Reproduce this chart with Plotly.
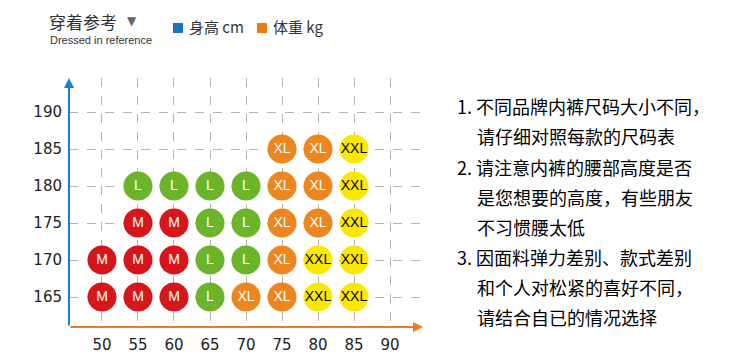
import plotly.graph_objects as go

# ---- data ----
heights = [165, 170, 175, 180, 185]
weights = [50, 55, 60, 65, 70, 75, 80, 85]
x_ticks = [50, 55, 60, 65, 70, 75, 80, 85, 90]
y_ticks = [165, 170, 175, 180, 185, 190]
# size per height row, aligned with weights ("" = no recommendation)
row_165 = ["M", "M", "M", "L", "XL", "XL", "XXL", "XXL"]
row_170 = ["M", "M", "M", "L", "L", "XL", "XXL", "XXL"]
row_175 = ["", "M", "M", "L", "L", "XL", "XL", "XXL"]
row_180 = ["", "L", "L", "L", "L", "XL", "XL", "XXL"]
row_185 = ["", "", "", "", "", "XL", "XL", "XXL"]
rows = [row_165, row_170, row_175, row_180, row_185]
sizes = ["M", "L", "XL", "XXL"]

title_cn = "穿着参考"
title_en = "Dressed in reference"
legend_h = "身高 cm"
legend_w = "体重 kg"
notes = [
    "1. 不同品牌内裤尺码大小不同，",
    "请仔细对照每款的尺码表",
    "2. 请注意内裤的腰部高度是否",
    "是您想要的高度，有些朋友",
    "不习惯腰太低",
    "3. 因面料弹力差别、款式差别",
    "和个人对松紧的喜好不同，",
    "请结合自已的情况选择",
]

# ---- styles ----
size_colors = {"M": "#d7161c", "L": "#6cb52b", "XL": "#ee8620", "XXL": "#fbe800"}
text_colors = {"M": "white", "L": "white", "XL": "white", "XXL": "black"}
W, H = 750, 360
L, R, T, B = 69, 327, 78, 33
PW, PH = W - L - R, H - T - B


def px(x):
    return (x - L) / PW


def py(y):
    return (T + PH - y) / PH


fig = go.Figure()
for s in sizes:
    xs, ys = [], []
    for h, row in zip(heights, rows):
        for w, lab in zip(weights, row):
            if lab == s:
                xs.append(w)
                ys.append(h)
    fig.add_trace(go.Scatter(
        x=xs, y=ys, mode="markers+text", text=[s] * len(xs),
        textposition="middle center",
        textfont=dict(family="Liberation Sans", size=14, color=text_colors[s]),
        marker=dict(size=29, color=size_colors[s], line=dict(width=0)),
        showlegend=False, hoverinfo="skip", cliponaxis=False,
    ))

grid = dict(showgrid=True, gridcolor="#b4b4b4", gridwidth=1, griddash="dash",
            zeroline=False, showline=False, ticks="", automargin=False,
            tickfont=dict(family="DejaVu Sans", size=15, color="#222"))
fig.update_xaxes(range=[45.42, 94.58], tickvals=x_ticks, ticklabelstandoff=7, **grid)
fig.update_yaxes(range=[160.95, 194.6], tickvals=y_ticks, ticklabelstandoff=6, **grid)

ann = []
# axis arrows
ann.append(dict(xref="paper", yref="paper", x=0, y=1, ax=0, ay=PH, text="",
                showarrow=True, arrowhead=2, arrowsize=1, arrowwidth=2,
                arrowcolor="#1a7fd4"))
ann.append(dict(xref="paper", yref="paper", x=1, y=0, ax=-PW, ay=0, text="",
                showarrow=True, arrowhead=2, arrowsize=1, arrowwidth=2,
                arrowcolor="#ee7a1a"))
# header
ann.append(dict(xref="paper", yref="paper", x=px(47), y=py(21), text=title_cn,
                xanchor="left", yanchor="middle", showarrow=False,
                font=dict(family="Noto Sans CJK SC", size=17, color="#333")))
ann.append(dict(xref="paper", yref="paper", x=px(125), y=py(21), text="▼",
                xanchor="left", yanchor="middle", showarrow=False,
                font=dict(family="DejaVu Sans", size=12, color="#666")))
ann.append(dict(xref="paper", yref="paper", x=px(48), y=py(40), text=title_en,
                xanchor="left", yanchor="middle", showarrow=False,
                font=dict(family="Liberation Sans", size=11, color="#333")))
ann.append(dict(xref="paper", yref="paper", x=px(187), y=py(27), text=legend_h,
                xanchor="left", yanchor="middle", showarrow=False,
                font=dict(family="Noto Sans CJK SC", size=15, color="#333")))
ann.append(dict(xref="paper", yref="paper", x=px(271), y=py(27), text=legend_w,
                xanchor="left", yanchor="middle", showarrow=False,
                font=dict(family="Noto Sans CJK SC", size=15, color="#333")))
# notes
note_y = [106, 136, 167, 197, 227, 257, 287, 317]
for t, yy in zip(notes, note_y):
    xx = 455 if t[:1].isdigit() else 475
    ann.append(dict(xref="paper", yref="paper", x=px(xx), y=py(yy), text=t,
                    xanchor="left", yanchor="middle", showarrow=False,
                    font=dict(family="Noto Sans CJK SC", size=18, color="#000")))

shapes = [
    dict(type="rect", xref="paper", yref="paper", x0=px(173), x1=px(183),
         y0=py(33), y1=py(23), fillcolor="#1a73c6", line=dict(width=0)),
    dict(type="rect", xref="paper", yref="paper", x0=px(257), x1=px(267),
         y0=py(33), y1=py(23), fillcolor="#ee7a12", line=dict(width=0)),
]

fig.update_layout(width=W, height=H, margin=dict(l=L, r=R, t=T, b=B, autoexpand=False),
                  paper_bgcolor="white", plot_bgcolor="white",
                  annotations=ann, shapes=shapes)
fig.write_html("out.html", config={"displayModeBar": False},
               post_script="document.body.style.margin='0';")
